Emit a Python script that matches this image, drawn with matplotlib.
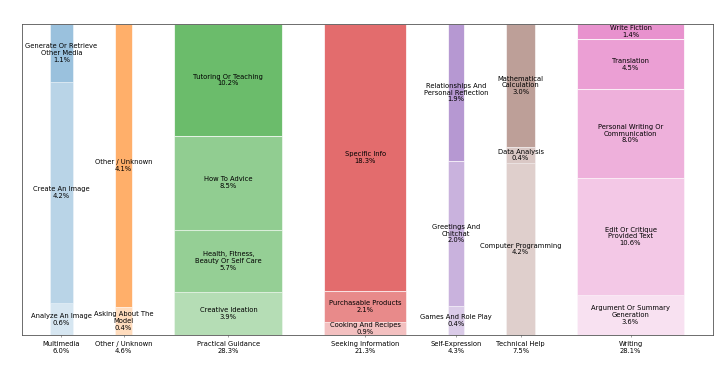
import textwrap
import matplotlib
matplotlib.use("Agg")
import matplotlib.pyplot as plt

# category shares (column widths) and their sub-categories, bottom to top
categories = ["Multimedia", "Other / Unknown", "Practical Guidance", "Seeking Information",
              "Self-Expression", "Technical Help", "Writing"]
shares = [6.0, 4.6, 28.3, 21.3, 4.3, 7.5, 28.1]

sub_names = [
    ["Analyze An Image", "Create An Image", "Generate Or Retrieve Other Media"],
    ["Asking About The Model", "Other / Unknown"],
    ["Creative Ideation", "Health, Fitness, Beauty Or Self Care", "How To Advice", "Tutoring Or Teaching"],
    ["Cooking And Recipes", "Purchasable Products", "Specific Info"],
    ["Games And Role Play", "Greetings And Chitchat", "Relationships And Personal Reflection"],
    ["Computer Programming", "Data Analysis", "Mathematical Calculation"],
    ["Argument Or Summary Generation", "Edit Or Critique Provided Text",
     "Personal Writing Or Communication", "Translation", "Write Fiction"],
]
sub_values = [
    [0.6, 4.2, 1.1],
    [0.4, 4.1],
    [3.9, 5.7, 8.5, 10.2],
    [0.9, 2.1, 18.3],
    [0.4, 2.0, 1.9],
    [4.2, 0.4, 3.0],
    [3.6, 10.6, 8.0, 4.5, 1.4],
]

# styling
base_colors = ["tab:blue", "tab:orange", "tab:green", "tab:red", "tab:purple", "tab:brown", "tab:pink"]
alphas = [
    [0.18, 0.31, 0.45],
    [0.27, 0.62],
    [0.35, 0.50, 0.52, 0.70],
    [0.29, 0.54, 0.68],
    [0.34, 0.50, 0.68],
    [0.28, 0.32, 0.57],
    [0.22, 0.40, 0.58, 0.70, 0.80],
]
gap = 11.0
fs = 9.8

fig = plt.figure(figsize=(14.4, 7.34), dpi=50)
ax = fig.add_axes([0.0306, 0.0872, 0.9594, 0.8474])

x = 0.0
centers = []
for cat, w, names, vals, col, al in zip(categories, shares, sub_names, sub_values, base_colors, alphas):
    total = sum(vals)
    bottom = 0.0
    for name, v, a in zip(names, vals, al):
        h = v / total
        ax.bar(x, h, width=w, bottom=bottom, align="edge", color=col, alpha=a,
               edgecolor="white", linewidth=1.5)
        label = "\n".join(textwrap.wrap(name, 20)) + "\n%.1f%%" % v
        ax.text(x + w / 2, bottom + h / 2, label, ha="center", va="center",
                fontsize=fs, color="black", linespacing=1.15)
        bottom += h
    centers.append(x + w / 2)
    x += w + gap

ax.set_xlim(-7.3, x - gap + 7.5)
ax.set_ylim(0, 1)
ax.set_yticks([])
ax.set_xticks(centers)
ax.set_xticklabels(["%s\n%.1f%%" % (c, s) for c, s in zip(categories, shares)],
                   fontsize=fs, color="black", linespacing=1.15)
ax.tick_params(axis="x", pad=5, colors="#555555", labelcolor="black")
for sp in ax.spines.values():
    sp.set_color("#555555")
    sp.set_linewidth(1.2)

fig.savefig("out.png", dpi=50)
